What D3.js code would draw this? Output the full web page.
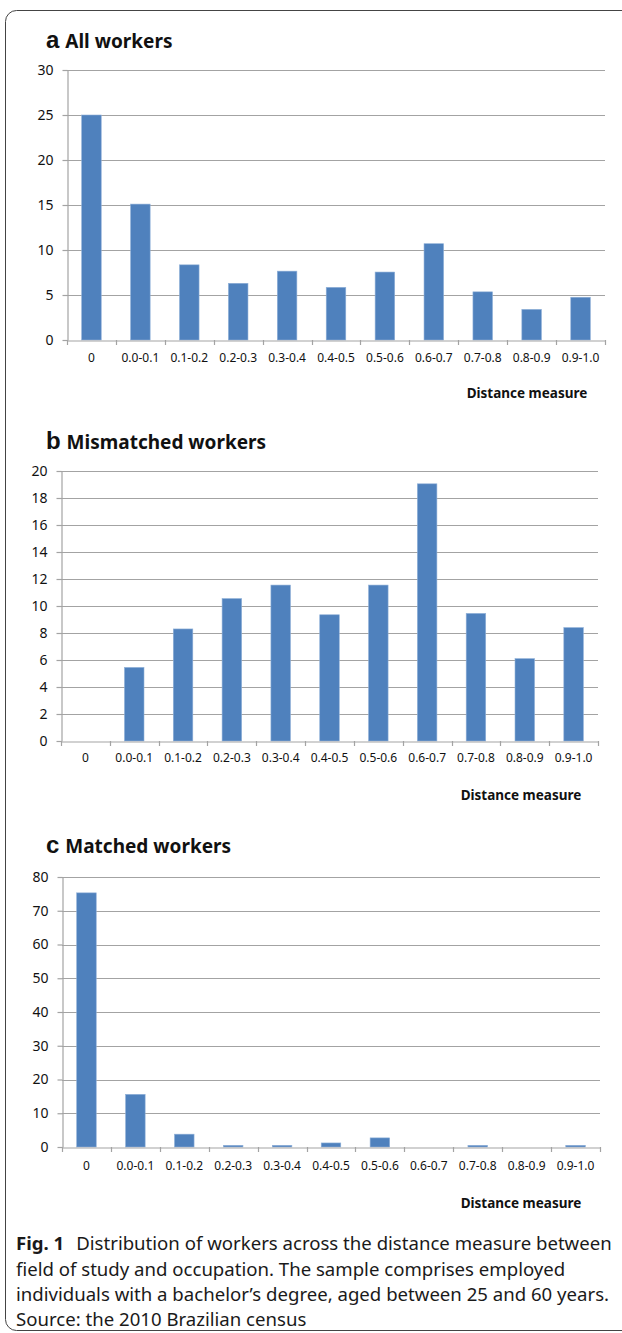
<!DOCTYPE html>
<html>
<head>
<meta charset="utf-8">
<script src="https://cdn.jsdelivr.net/npm/d3@7"></script>
<style>
  html, body { margin: 0; padding: 0; background: #fff; }
  svg { display: block; }
</style>
</head>
<body>
<svg id="chart" width="622" height="1333"></svg>
<script>
// ---- Data ----
const categories = ["0", "0.0-0.1", "0.1-0.2", "0.2-0.3", "0.3-0.4", "0.4-0.5", "0.5-0.6", "0.6-0.7", "0.7-0.8", "0.8-0.9", "0.9-1.0"];
const allWorkers = [25.0, 15.1, 8.35, 6.3, 7.65, 5.85, 7.55, 10.7, 5.35, 3.4, 4.75];
const mismatchedWorkers = [0, 5.45, 8.3, 10.55, 11.55, 9.35, 11.55, 19.05, 9.45, 6.1, 8.4];
const matchedWorkers = [75.3, 15.6, 3.8, 0.5, 0.5, 1.2, 2.7, 0, 0.5, 0, 0.5];
const yTicksA = [0, 5, 10, 15, 20, 25, 30];
const yTicksB = [0, 2, 4, 6, 8, 10, 12, 14, 16, 18, 20];
const yTicksC = [0, 10, 20, 30, 40, 50, 60, 70, 80];
const panelLetters = ["a", "b", "c"];
const panelTitles = ["All workers", "Mismatched workers", "Matched workers"];
const xAxisTitle = "Distance measure";
const captionBold = "Fig. 1";
const captionLines = [
  "Distribution of workers across the distance measure between",
  "field of study and occupation. The sample comprises employed",
  "individuals with a bachelor\u2019s degree, aged between 25 and 60 years.",
  "Source: the 2010 Brazilian census"
];

// ---- Layout ----
const svg = d3.select("#chart");
const BAR = "#4F81BD";
const GRID = "#a3a3a3";

svg.append("rect")
  .attr("x", 5.5).attr("y", 10.5)
  .attr("width", 700).attr("height", 1320)
  .attr("rx", 11).attr("ry", 11)
  .attr("fill", "none").attr("stroke", "#444").attr("stroke-width", 1);

const panels = [
  { data: allWorkers, ticks: yTicksA, max: 30, left: 67, right: 605, top: 70, bottom: 340,
    titleY: 48, xLabY: 361, xTitleY: 398, xTitleX: 527 },
  { data: mismatchedWorkers, ticks: yTicksB, max: 20, left: 61, right: 598, top: 471, bottom: 741,
    titleY: 449, xLabY: 761, xTitleY: 800, xTitleX: 521 },
  { data: matchedWorkers, ticks: yTicksC, max: 80, left: 62, right: 600, top: 877, bottom: 1147,
    titleY: 853, xLabY: 1169, xTitleY: 1208, xTitleX: 521 }
];

panels.forEach((p, i) => {
  const g = svg.append("g");
  const x = d3.scaleBand().domain(categories).range([p.left, p.right]).paddingInner(0.6).paddingOuter(0.3);
  const xb = d3.scaleBand().domain(categories).range([p.left, p.right]);
  const y = d3.scaleLinear().domain([0, p.max]).range([p.bottom, p.top]);

  // title
  const t = g.append("text").attr("x", 46).attr("y", p.titleY).attr("fill", "#111");
  t.append("tspan").text(panelLetters[i])
    .attr("font-family", "Liberation Sans, Arial, sans-serif").attr("font-weight", "bold").attr("font-size", 24);
  t.append("tspan").text(" " + panelTitles[i]).attr("dx", 1)
    .attr("font-family", "Noto Sans, sans-serif").attr("font-weight", "bold").attr("font-size", 19);

  // gridlines
  g.append("g").selectAll("line").data(p.ticks.filter(v => v > 0)).join("line")
    .attr("x1", p.left).attr("x2", p.right)
    .attr("y1", d => Math.round(y(d)) + 0.5).attr("y2", d => Math.round(y(d)) + 0.5)
    .attr("stroke", GRID).attr("stroke-width", 1.2);

  // y axis
  const ya = g.append("g").attr("transform", `translate(${p.left + 0.5},0)`)
    .call(d3.axisLeft(y).tickValues(p.ticks).tickSize(5).tickPadding(9).tickSizeOuter(0));
  ya.select(".domain").attr("stroke", GRID).attr("stroke-width", 1.2);
  ya.selectAll(".tick line").attr("stroke", GRID).attr("stroke-width", 1.2);
  ya.selectAll(".tick text").attr("font-family", "Noto Sans, sans-serif").attr("font-size", 14).attr("fill", "#111");

  // bars
  g.append("g").selectAll("rect").data(p.data).join("rect")
    .attr("x", (d, j) => x(categories[j]))
    .attr("width", x.bandwidth())
    .attr("y", d => y(d))
    .attr("height", d => p.bottom - y(d))
    .attr("fill", BAR)
    .attr("stroke", "#8fb0d8").attr("stroke-width", 0.6);

  // x axis
  const xa = g.append("g").attr("transform", `translate(0,${Math.round(p.bottom) + 0.5})`)
    .call(d3.axisBottom(xb).tickSize(0).tickSizeOuter(0).tickPadding(0));
  xa.select(".domain").attr("stroke", GRID).attr("stroke-width", 1.2);
  xa.selectAll(".tick text").attr("y", p.xLabY - Math.round(p.bottom))
    .attr("dy", 0)
    .attr("font-family", "Noto Sans, sans-serif").attr("font-size", 12).attr("fill", "#111");
  // boundary ticks
  const bounds = categories.map(c => xb(c)).concat([p.right]);
  g.append("g").selectAll("line").data(bounds).join("line")
    .attr("x1", d => Math.round(d) + 0.5).attr("x2", d => Math.round(d) + 0.5)
    .attr("y1", Math.round(p.bottom)).attr("y2", Math.round(p.bottom) + 5)
    .attr("stroke", GRID).attr("stroke-width", 1.2);

  g.append("text").attr("x", p.xTitleX).attr("y", p.xTitleY).attr("text-anchor", "middle")
    .attr("font-family", "Noto Sans, sans-serif").attr("font-weight", "bold").attr("font-size", 13.5)
    .attr("fill", "#111").text(xAxisTitle);
});

// caption
const cap = svg.append("g").attr("font-family", "Noto Sans, sans-serif").attr("font-size", 18.6).attr("fill", "#1a1a1a");
const baseY = [1250, 1276, 1301, 1326];
captionLines.forEach((line, i) => {
  const t = cap.append("text").attr("x", 16).attr("y", baseY[i]);
  if (i === 0) {
    t.append("tspan").attr("font-weight", "bold").text(captionBold);
    t.append("tspan").attr("dx", 12).text(line);
  } else {
    t.text(line);
  }
});
</script>
</body>
</html>
